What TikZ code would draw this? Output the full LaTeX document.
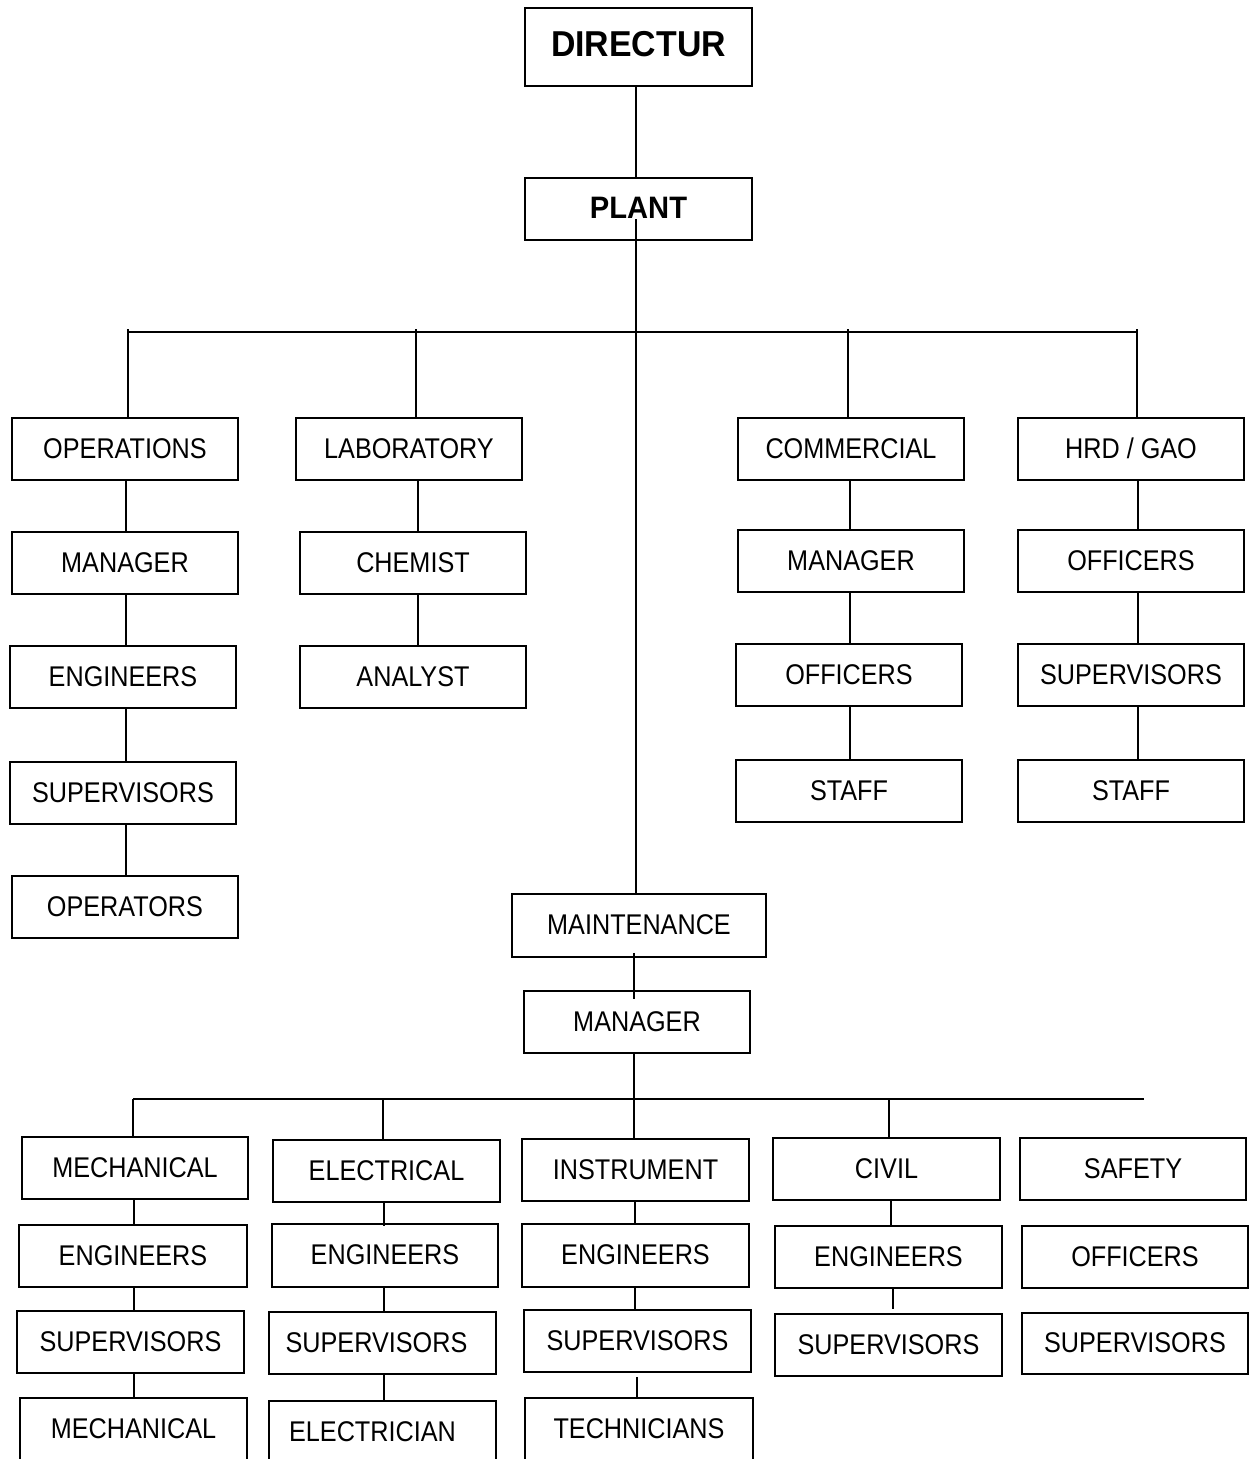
\documentclass[tikz,border=0pt]{standalone}
\usepackage{fontspec}
\setmainfont[FakeStretch=0.885]{Liberation Sans}
\newfontfamily\headfam[FakeStretch=0.94]{Liberation Sans}
\usetikzlibrary{calc}
\begin{document}
\begin{tikzpicture}[x=1pt,y=-1pt,
  ob/.style={draw=black,line width=1.6pt,rectangle,inner sep=0pt,
    minimum width=226pt,minimum height=62pt,
    font=\fontsize{28.5}{30}\selectfont,text height=20.4pt,text depth=2pt},
  hb/.style={ob,font=\headfam\bfseries\fontsize{36}{40}\selectfont,text height=25.8pt,text depth=6pt},
  hp/.style={ob,font=\headfam\bfseries\fontsize{31}{34}\selectfont,text height=22.2pt,text depth=4pt},
  cut/.style={ob,minimum height=64pt,text depth=4pt},
  ln/.style={line width=1.6pt}]
\useasboundingbox (0,0) rectangle (1251,1459);
\fill[white] (0,0) rectangle (1251,1459);
\clip (0,0) rectangle (1251,1459);

% top
\node[hb,minimum width=227pt,minimum height=78pt] (dir) at (638.5,47) {DIRECTUR};
\node[hp,minimum width=227pt] (plant) at (638.5,209) {PLANT};

% first level
\node[ob] (ops) at (125,449) {OPERATIONS};
\node[ob] (lab) at (409,449) {LABORATORY};
\node[ob] (comm) at (851,449) {COMMERCIAL};
\node[ob] (hrd) at (1131,449) {HRD / GAO};

\node[ob] (opsmgr) at (125,563) {MANAGER};
\node[ob] (opseng) at (123,677) {ENGINEERS};
\node[ob] (opssup) at (123,793) {SUPERVISORS};
\node[ob] (opsop) at (125,907) {OPERATORS};

\node[ob] (chem) at (413,563) {CHEMIST};
\node[ob] (anal) at (413,677) {ANALYST};

\node[ob] (commmgr) at (851,561) {MANAGER};
\node[ob] (commoff) at (849,675) {OFFICERS};
\node[ob] (commstaff) at (849,791) {STAFF};

\node[ob] (hrdoff) at (1131,561) {OFFICERS};
\node[ob] (hrdsup) at (1131,675) {SUPERVISORS};
\node[ob] (hrdstaff) at (1131,791) {STAFF};

% maintenance
\node[ob,minimum width=254pt,minimum height=63pt] (maint) at (639,925.5) {MAINTENANCE};
\node[ob] (mmgr) at (637,1022) {MANAGER};

% bottom level
\node[ob] (mech) at (135,1168) {MECHANICAL};
\node[ob,minimum width=228pt] (mecheng) at (133,1256) {ENGINEERS};
\node[ob,minimum width=227pt] (mechsup) at (130.5,1342) {SUPERVISORS};
\node[cut,minimum width=227pt] (mechw) at (133.5,1430) {MECHANICAL};

\node[ob,minimum width=227pt] (elec) at (386.5,1171) {ELECTRICAL};
\node[ob,minimum height=63pt] (eleceng) at (385,1255.5) {ENGINEERS};
\node[ob,minimum width=227pt] (elecsup) at (382.5,1343) {\hspace*{-12pt}SUPERVISORS};
\node[cut,minimum width=227pt] (elecw) at (382.5,1433) {\hspace*{-20pt}ELECTRICIAN};

\node[ob,minimum width=227pt] (inst) at (635.5,1170) {INSTRUMENT};
\node[ob,minimum width=227pt,minimum height=63pt] (insteng) at (635.5,1255.5) {ENGINEERS};
\node[ob,minimum width=227pt] (instsup) at (637.5,1341) {SUPERVISORS};
\node[cut,minimum width=228pt] (insttech) at (639,1430) {TECHNICIANS};

\node[ob,minimum width=227pt] (civil) at (886.5,1169) {CIVIL};
\node[ob,minimum width=227pt] (civeng) at (888.5,1257) {ENGINEERS};
\node[ob,minimum width=227pt] (civsup) at (888.5,1345) {SUPERVISORS};

\node[ob] (safety) at (1133,1169) {SAFETY};
\node[ob] (safoff) at (1135,1257) {OFFICERS};
\node[ob,minimum height=61pt] (safsup) at (1135,1343.5) {SUPERVISORS};

% connectors: top
\draw[ln] (dir.south -| 636,0) -- (plant.north -| 636,0);
\coordinate (pl) at (636,219);
\draw[ln] (pl) -- (pl |- maint.north);

\coordinate (busL) at (128,332);
\coordinate (busR) at (1137,332);
\draw[ln] (busL) -- (busR);
\coordinate (bOps) at (128,329);
\coordinate (bLab) at (416,329);
\coordinate (bComm) at (848,329);
\coordinate (bHrd) at (1137,329);
\draw[ln] (bOps) -- (bOps |- ops.north);
\draw[ln] (bLab) -- (bLab |- lab.north);
\draw[ln] (bComm) -- (bComm |- comm.north);
\draw[ln] (bHrd) -- (bHrd |- hrd.north);

% columns
\coordinate (cOps) at (126,0);
\draw[ln] (cOps |- ops.south) -- (cOps |- opsmgr.north);
\draw[ln] (cOps |- opsmgr.south) -- (cOps |- opseng.north);
\draw[ln] (cOps |- opseng.south) -- (cOps |- opssup.north);
\draw[ln] (cOps |- opssup.south) -- (cOps |- opsop.north);

\coordinate (cLab) at (418,0);
\draw[ln] (cLab |- lab.south) -- (cLab |- chem.north);
\draw[ln] (cLab |- chem.south) -- (cLab |- anal.north);

\coordinate (cComm) at (850,0);
\draw[ln] (cComm |- comm.south) -- (cComm |- commmgr.north);
\draw[ln] (cComm |- commmgr.south) -- (cComm |- commoff.north);
\draw[ln] (cComm |- commoff.south) -- (cComm |- commstaff.north);

\coordinate (cHrd) at (1138,0);
\draw[ln] (cHrd |- hrd.south) -- (cHrd |- hrdoff.north);
\draw[ln] (cHrd |- hrdoff.south) -- (cHrd |- hrdsup.north);
\draw[ln] (cHrd |- hrdsup.south) -- (cHrd |- hrdstaff.north);

% maintenance
\coordinate (cM) at (634,0);
\draw[ln] ($(cM |- maint.south)+(0,-5)$) -- ($(cM |- mmgr.north)+(0,9)$);
\draw[ln] (cM |- mmgr.south) -- (cM |- inst.north);

\coordinate (bbL) at (133,1099);
\coordinate (bbR) at (1144,1099);
\draw[ln] (bbL) -- (bbR);
\coordinate (bMech) at (133,1099);
\coordinate (bElec) at (383,1099);
\coordinate (bCiv) at (889,1099);
\draw[ln] (bMech) -- (bMech |- mech.north);
\draw[ln] (bElec) -- (bElec |- elec.north);
\draw[ln] (bCiv) -- (bCiv |- civil.north);

\coordinate (cMech) at (134,0);
\draw[ln] (cMech |- mech.south) -- (cMech |- mecheng.north);
\draw[ln] (cMech |- mecheng.south) -- (cMech |- mechsup.north);
\draw[ln] (cMech |- mechsup.south) -- (cMech |- mechw.north);

\coordinate (cElec) at (384,0);
\draw[ln] (cElec |- elec.south) -- ($(cElec |- eleceng.north)+(0,3)$);
\draw[ln] (cElec |- eleceng.south) -- (cElec |- elecsup.north);
\draw[ln] (cElec |- elecsup.south) -- (cElec |- elecw.north);

\coordinate (cInst) at (635,0);
\draw[ln] (cInst |- inst.south) -- (cInst |- insteng.north);
\draw[ln] (cInst |- insteng.south) -- (cInst |- instsup.north);
\coordinate (cInst2) at (637,0);
\draw[ln] ($(cInst2 |- instsup.south)+(0,4)$) -- (cInst2 |- insttech.north);

\coordinate (cCiv) at (891,0);
\draw[ln] (cCiv |- civil.south) -- (cCiv |- civeng.north);
\coordinate (cCiv2) at (893,0);
\draw[ln] (cCiv2 |- civeng.south) -- ($(cCiv2 |- civsup.north)+(0,-4)$);
\end{tikzpicture}
\end{document}
